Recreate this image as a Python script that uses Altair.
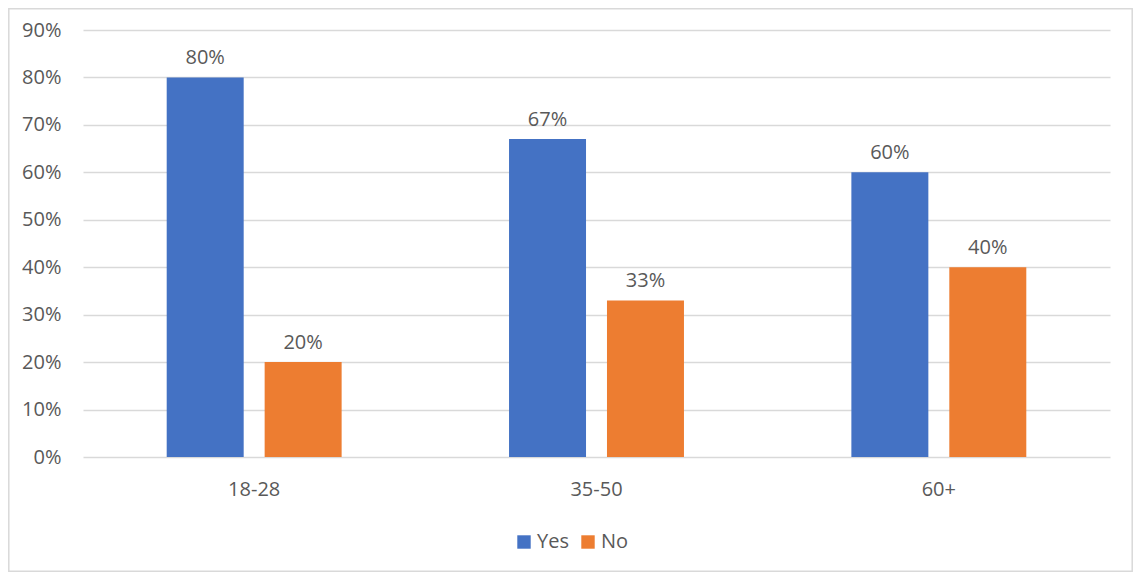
import altair as alt
import pandas as pd

groups = ["18-28", "35-50", "60+"]
answers = ["Yes", "No"]
yes_vals = [0.80, 0.67, 0.60]
no_vals = [0.20, 0.33, 0.40]
y_ticks = [0.0, 0.1, 0.2, 0.3, 0.4, 0.5, 0.6, 0.7, 0.8, 0.9]
colors = ["#4472C4", "#ED7D31"]

rows = []
for g, y, n in zip(groups, yes_vals, no_vals):
    rows.append({"group": g, "answer": "Yes", "value": y})
    rows.append({"group": g, "answer": "No", "value": n})
df = pd.DataFrame(rows)

FONT = "Open Sans"
TXT = "#595959"

x_enc = alt.X("group:N", sort=groups,
              scale=alt.Scale(paddingInner=0.489, paddingOuter=0.2445),
              axis=alt.Axis(title=None, labelAngle=0, domain=False, ticks=False,
                            labelPadding=22, labelFontSize=20, labelColor=TXT,
                            labelFont=FONT, grid=False))
xoff = alt.XOffset("answer:N", sort=answers,
                   scale=alt.Scale(paddingInner=0.214, paddingOuter=0))
y_enc = alt.Y("value:Q",
              scale=alt.Scale(domain=[0, 0.9], nice=False),
              axis=alt.Axis(title=None, values=y_ticks, format=".0%",
                            domain=False, ticks=False, labelPadding=22,
                            labelFontSize=20, labelColor=TXT, labelFont=FONT,
                            grid=True, gridColor="#D9D9D9", gridWidth=1.3))
color_enc = alt.Color("answer:N", sort=answers,
                      scale=alt.Scale(domain=answers, range=colors),
                      legend=alt.Legend(title=None, orient="none", direction="horizontal",
                                        legendX=431, legendY=502,
                                        symbolType="square", symbolSize=180,
                                        symbolStrokeWidth=0,
                                        labelFontSize=20, labelColor=TXT, labelFont=FONT,
                                        labelOffset=3, columnPadding=9))

bars = alt.Chart(df).mark_bar().encode(x=x_enc, xOffset=xoff, y=y_enc, color=color_enc)

labels = alt.Chart(df).mark_text(baseline="bottom", dy=-9, fontSize=20,
                                 font=FONT, color=TXT).encode(
    x=alt.X("group:N", sort=groups),
    xOffset=alt.XOffset("answer:N", sort=answers),
    y="value:Q",
    text=alt.Text("value:Q", format=".0%"),
)

border = alt.Chart(alt.Data(values=[{}])).mark_rect(
    fill=None, stroke="#D9D9D9", strokeWidth=1.5).encode(
    x=alt.value(-74.2), x2=alt.value(1049.2),
    y=alt.value(-21.2), y2=alt.value(541.2))

chart = alt.layer(bars, labels, border).properties(
    width=1027, height=427,
    autosize=alt.AutoSizeParams(type="none"),
    padding={"left": 75, "top": 22, "right": 23, "bottom": 115},
    background="white",
).configure_view(stroke=None)

chart.save("out.html", embed_options={"renderer": "svg", "actions": False})
